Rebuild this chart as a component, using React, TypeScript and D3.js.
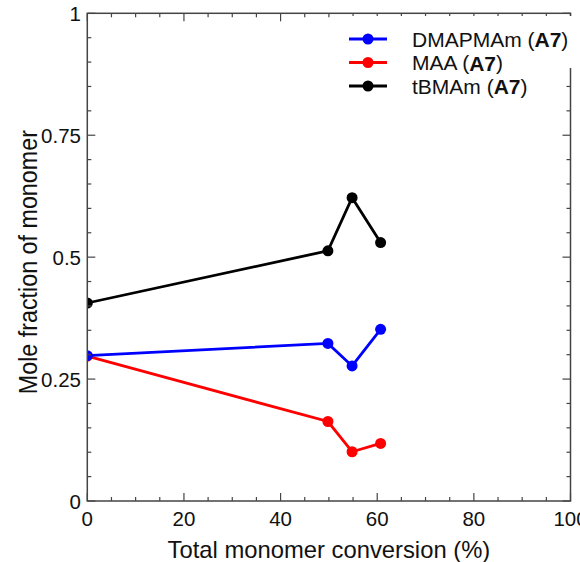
import React from "react";
import * as d3 from "d3";

const conversion = [0, 49.8, 54.8, 60.7];
const dmapmam = [0.298, 0.323, 0.277, 0.352];
const maa = [0.297, 0.163, 0.101, 0.118];
const tbmam = [0.406, 0.513, 0.622, 0.53];

const seriesNames = ["DMAPMAm", "MAA", "tBMAm"];
const seriesColors = ["#0000ff", "#ff0000", "#000000"];
const xTicks = [0, 20, 40, 60, 80, 100];
const yTicks = [0, 0.25, 0.5, 0.75, 1];
const yTickLabels = ["0", "0.25", "0.5", "0.75", "1"];

const W = 580;
const H = 562;
const L = 87.3;
const R = 570.5;
const T = 13.3;
const B = 501;
const FONT = "'Liberation Sans', Arial, sans-serif";

export default function App() {
  const x = d3.scaleLinear().domain([0, 100]).range([L, R]);
  const y = d3.scaleLinear().domain([0, 1]).range([B, T]);
  const line = d3
    .line<[number, number]>()
    .x((d) => x(d[0]))
    .y((d) => y(d[1]));

  const seriesValues = [dmapmam, maa, tbmam];
  const drawOrder = [1, 0, 2];

  const xMinor = d3.range(0, 100.001, 5);
  const yMinor = d3.range(0, 1.0001, 0.05);
  const axisColor = "#444";

  return (
    <svg
      width={W}
      height={H}
      style={{ position: "absolute", left: 0, top: 0, background: "#fff" }}
      fontFamily={FONT}
    >
      <defs>
        <clipPath id="plotclip">
          <rect x={L} y={T} width={R - L} height={B - T} />
        </clipPath>
      </defs>
      <rect x={0} y={0} width={W} height={H} fill="#fff" />

      {/* data */}
      <g clipPath="url(#plotclip)">
        {drawOrder.map((si) => {
          const pts: [number, number][] = conversion.map((c, i) => [c, seriesValues[si][i]]);
          return (
            <g key={si}>
              <path d={line(pts) || ""} fill="none" stroke={seriesColors[si]} strokeWidth={2.8} />
              {pts.map((p, i) => (
                <circle key={i} cx={x(p[0])} cy={y(p[1])} r={5.5} fill={seriesColors[si]} />
              ))}
            </g>
          );
        })}
      </g>

      {/* ticks */}
      <g stroke={axisColor} strokeWidth={1.2}>
        {xMinor.map((v, i) => {
          const major = Math.abs(v % 20) < 1e-6;
          const len = major ? 8 : 4;
          return (
            <g key={"xm" + i}>
              <line x1={x(v)} x2={x(v)} y1={B} y2={B - len} />
              <line x1={x(v)} x2={x(v)} y1={T} y2={T + len} />
            </g>
          );
        })}
        {yMinor.map((v, i) => {
          const major = i % 5 === 0;
          const len = major ? 8 : 4;
          return (
            <g key={"ym" + i}>
              <line x1={L} x2={L + len} y1={y(v)} y2={y(v)} />
              <line x1={R} x2={R - len} y1={y(v)} y2={y(v)} />
            </g>
          );
        })}
      </g>

      {/* frame */}
      <rect x={L} y={T} width={R - L} height={B - T} fill="none" stroke={axisColor} strokeWidth={1.5} />

      {/* legend */}
      <rect x={342} y={16} width={238} height={52} fill="#fff" />
      {[0, 1, 2].map((i) => {
        const ly = 39 + i * 23.5;
        return (
          <g key={"lg" + i}>
            <line x1={349} x2={387} y1={ly} y2={ly} stroke={seriesColors[i]} strokeWidth={2.8} />
            <circle cx={368} cy={ly} r={5.5} fill={seriesColors[i]} />
            <text x={412} y={ly} dominantBaseline="central" fontSize={21} fill="#111">
              {seriesNames[i]} (<tspan fontWeight="bold">A7</tspan>)
            </text>
          </g>
        );
      })}

      {/* tick labels */}
      {xTicks.map((v, i) => (
        <text key={"xt" + i} x={x(v)} y={526} textAnchor="middle" fontSize={20.5} fill="#111">
          {v}
        </text>
      ))}
      {yTicks.map((v, i) => (
        <text
          key={"yt" + i}
          x={81}
          y={y(v)}
          textAnchor="end"
          dominantBaseline="central"
          fontSize={20.5}
          fill="#111"
        >
          {yTickLabels[i]}
        </text>
      ))}

      {/* axis titles */}
      <text x={(L + R) / 2} y={558} textAnchor="middle" fontSize={23.8} fill="#111">
        Total monomer conversion (%)
      </text>
      <text
        transform={`translate(37, ${(T + B) / 2 + 5}) rotate(-90) scale(1, 1.1)`}
        textAnchor="middle"
        fontSize={23.3}
        fill="#111"
      >
        Mole fraction of monomer
      </text>
    </svg>
  );
}
